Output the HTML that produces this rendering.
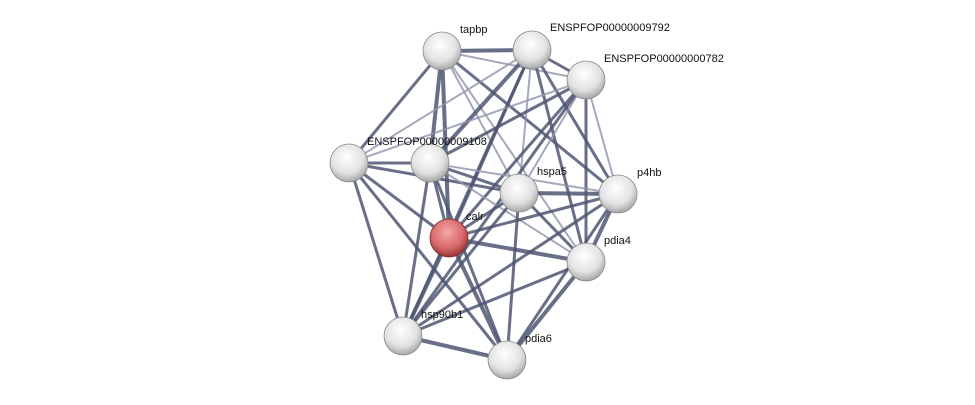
<!DOCTYPE html>
<html><head><meta charset="utf-8"><style>
html,body{margin:0;padding:0;background:#fff;}
svg{display:block;}
text{font-family:"Liberation Sans",sans-serif;font-size:11px;fill:#111;}
</style></head><body>
<svg id="s" width="975" height="405" viewBox="0 0 975 405" xmlns="http://www.w3.org/2000/svg">
<defs>
<radialGradient id="g" cx="0.45" cy="0.35" r="0.7">
<stop offset="0" stop-color="#ffffff"/><stop offset="0.6" stop-color="#e2e2e2"/><stop offset="1" stop-color="#9a9a9a"/>
</radialGradient>
<radialGradient id="r" cx="0.45" cy="0.35" r="0.7">
<stop offset="0" stop-color="#f4a8a8"/><stop offset="0.6" stop-color="#d9686a"/><stop offset="1" stop-color="#8a2a2c"/>
</radialGradient>
</defs>
<g id="edges"></g>
<g id="nodes"></g>
</svg>
<script>
var N={tap:[442,51],e92:[532,50],e82:[586,80],L:[349,163],e08:[430,163],hs:[519,193],p4:[618,194],ca:[449,238],pd4:[586,262],h90:[403,336],pd6:[507,360]};
var E=[
["tap","e92",4],["tap","L",3],["tap","e08",4],["tap","ca",4],["tap","hs",2],["tap","p4",3],["tap","pd4",2],["tap","e82",2],
["e92","e82",3],["e92","L",2],["e92","e08",4],["e92","ca",3],["e92","hs",2],["e92","p4",3],["e92","pd4",3],["e92","h90",3],
["e82","L",2],["e82","e08",3],["e82","ca",3],["e82","hs",2],["e82","p4",2],["e82","pd4",3],["e82","h90",3],
["L","e08",3],["L","ca",3],["L","hs",3],["L","h90",3],["L","pd6",3],
["e08","hs",3],["e08","p4",2],["e08","pd4",2],["e08","ca",3],["e08","h90",3],["e08","pd6",3],
["hs","p4",4],["hs","pd4",3],["hs","ca",3],["hs","h90",3],["hs","pd6",3],
["p4","pd4",4],["p4","ca",3],["p4","h90",3],["p4","pd6",3],
["ca","pd4",4],["ca","h90",4],["ca","pd6",4],
["pd4","h90",3],["pd4","pd6",4],["h90","pd6",4]];
var ns="http://www.w3.org/2000/svg",eg=document.getElementById("edges"),ng=document.getElementById("nodes");
E.forEach(function(e){var a=N[e[0]],b=N[e[1]],l=document.createElementNS(ns,"line");
l.setAttribute("x1",a[0]);l.setAttribute("y1",a[1]);l.setAttribute("x2",b[0]);l.setAttribute("y2",b[1]);
l.setAttribute("stroke",e[2]<3?"#8e94ab":"#4e5672");l.setAttribute("stroke-width",e[2]);l.setAttribute("stroke-opacity",e[2]<3?0.8:0.85);eg.appendChild(l);});
var labels={tap:["tapbp",18,-18],e92:["ENSPFOP00000009792",18,-19],e82:["ENSPFOP00000000782",18,-18],e08:["ENSPFOP00000009108",-63,-18],hs:["hspa5",18,-18],p4:["p4hb",19,-18],ca:["calr",17,-18],pd4:["pdia4",18,-18],h90:["hsp90b1",18,-18],pd6:["pdia6",18,-18]};
for(var k in N){var p=N[k],c=document.createElementNS(ns,"circle");
c.setAttribute("cx",p[0]);c.setAttribute("cy",p[1]);c.setAttribute("r",19);
c.setAttribute("fill",k=="ca"?"url(#r)":"url(#g)");c.setAttribute("stroke",k=="ca"?"#7a2a2a":"#8a8a8a");c.setAttribute("stroke-width","0.8");ng.appendChild(c);
if(labels[k]){var t=document.createElementNS(ns,"text");t.setAttribute("x",p[0]+labels[k][1]);t.setAttribute("y",p[1]+labels[k][2]);t.textContent=labels[k][0];ng.appendChild(t);}}
</script>
</body></html>
